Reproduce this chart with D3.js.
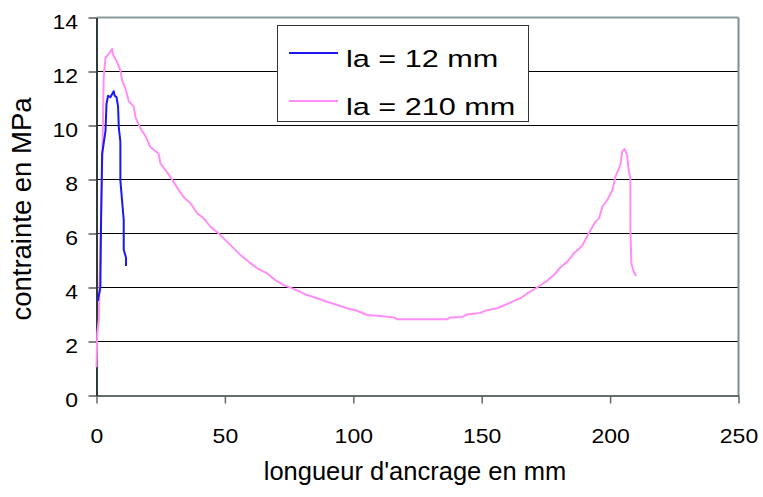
<!DOCTYPE html>
<html>
<head>
<meta charset="utf-8">
<script src="https://cdn.jsdelivr.net/npm/d3@7"></script>
<style>
  html, body { margin: 0; padding: 0; background: #fff; }
  svg { display: block; }
  text { font-family: "Liberation Sans", Arial, sans-serif; fill: #000; }
</style>
</head>
<body>
<svg id="chart" width="763" height="497"></svg>
<script>
// ---- data ----
const seriesNames = ["la = 12 mm", "la = 210 mm"];
const seriesColors = ["#1a1aee", "#ff8ff6"];

const blueX = [0.5, 1.5, 1.8, 2.2, 3.5, 3.9, 4.5, 5.4, 6.1, 6.7,
               7.1, 7.8, 8.4, 8.7, 9.3, 9.3, 10.6, 10.6, 11.5, 11.5];
const blueY = [3.5, 4.0, 6.6, 8.95, 9.8, 10.8, 11.1, 11.05, 11.17, 11.27,
               11.1, 11.05, 10.7, 9.9, 9.4, 7.96, 6.5, 5.4, 5.1, 4.8];

const pinkX = [0, 0.3, 0.9, 1.6, 2.2, 2.8, 3.5, 4.8, 6.1, 6.3,
               8.0, 9.3, 10.0, 11.3, 12.6, 14.5, 15.2, 17.1, 19.1, 21.0,
               24.2, 24.9, 28.8, 31.4, 34.0, 36.6, 39.2, 41.8, 44.4, 47.6,
               49.5, 52.2, 54.8, 56.1, 59.3, 62.6, 66.5, 69.7, 72.9, 76.2,
               79.4, 82.0, 85.9, 89.8, 93.7, 97.6, 101.5, 105.4, 110.6, 115.8,
               117.0, 123.6, 130, 136.5, 137.8, 142.4, 144.3, 149.5, 152.1, 156.0,
               159.9, 163.2, 165.1, 167.7, 171.6, 175.5, 178.1, 180.7, 183.3, 185.9,
               189.1, 191.1, 192.4, 194.3, 195.7, 197.0, 198.9, 200.9, 202.1, 204.0,
               204.7, 205.6, 206.6, 207.2, 207.9, 207.9, 208.3, 209.2, 210.2];
const pinkY = [1.05, 2.3, 2.8, 6.0, 8.45, 11.8, 12.5, 12.65, 12.84, 12.65,
               12.35, 12.04, 11.67, 11.36, 10.9, 10.7, 10.3, 9.9, 9.6, 9.2,
               8.95, 8.6, 8.1, 7.7, 7.34, 7.12, 6.75, 6.56, 6.25, 6.0,
               5.82, 5.57, 5.32, 5.2, 4.95, 4.71, 4.52, 4.27, 4.09, 3.97,
               3.84, 3.72, 3.6, 3.47, 3.35, 3.23, 3.14, 2.98, 2.94, 2.89,
               2.82, 2.82, 2.82, 2.82, 2.89, 2.91, 3.0, 3.06, 3.16, 3.23,
               3.39, 3.53, 3.6, 3.78, 4.0, 4.25, 4.46, 4.75, 4.95, 5.27,
               5.54, 5.91, 6.13, 6.44, 6.56, 6.99, 7.24, 7.61, 8.11, 8.54,
               9.03, 9.13, 8.91, 8.35, 8.05, 6.13, 4.89, 4.58, 4.43];

const xTicks = [0, 50, 100, 150, 200, 250];
const yTicks = [0, 2, 4, 6, 8, 10, 12, 14];
const xTitle = "longueur d'ancrage en mm";
const yTitle = "contrainte en MPa";

// ---- layout ----
const svg = d3.select("#chart");
const pL = 96.5, pR = 738.5, pT = 17.5, pB = 395.5;
const x = d3.scaleLinear().domain([0, 250]).range([pL, pR]);
const y = d3.scaleLinear().domain([0, 14]).range([pB, pT]);

// gridlines
svg.append("g").selectAll("line")
  .data(yTicks.filter(d => d > 0 && d < 14))
  .join("line")
  .attr("x1", pL).attr("x2", pR)
  .attr("y1", d => y(d)).attr("y2", d => y(d))
  .attr("stroke", "#000").attr("stroke-width", 1);

// frame top/right (gray)
svg.append("line").attr("x1", pL).attr("x2", pR).attr("y1", pT).attr("y2", pT)
  .attr("stroke", "#8a9a9a").attr("stroke-width", 2);
svg.append("line").attr("x1", pR).attr("x2", pR).attr("y1", pT).attr("y2", pB)
  .attr("stroke", "#7a9090").attr("stroke-width", 2);

// axes
const tickSX = 1.15;
const xAxis = svg.append("g").attr("transform", `translate(0,${pB})`)
  .call(d3.axisBottom(x).tickValues(xTicks).tickSize(8).tickSizeOuter(0).tickFormat(d3.format("d")));
xAxis.select(".domain").attr("stroke", "#2f3f3f").attr("stroke-width", 1.5);
xAxis.selectAll(".tick line").attr("stroke", "#666").attr("stroke-width", 1.5);
xAxis.selectAll(".tick text")
  .attr("y", 47.5).attr("dy", 0)
  .attr("transform", `scale(${tickSX},1)`)
  .style("font-size", "20px").style("font-family", "'Liberation Sans', Arial, sans-serif").attr("fill", "#000");

const yAxis = svg.append("g").attr("transform", `translate(${pL},0)`)
  .call(d3.axisLeft(y).tickValues(yTicks).tickSize(8).tickSizeOuter(0).tickFormat(d3.format("d")));
yAxis.select(".domain").attr("stroke", "#2f3a3a").attr("stroke-width", 2);
yAxis.selectAll(".tick line").attr("stroke", "#333").attr("stroke-width", 1.2);
yAxis.selectAll(".tick text")
  .attr("x", -18.5 / tickSX).attr("y", 10.5).attr("dy", 0)
  .attr("transform", `scale(${tickSX},1)`)
  .style("font-size", "20px").style("font-family", "'Liberation Sans', Arial, sans-serif").attr("fill", "#000");

// axis titles
svg.append("text").attr("x", 415).attr("y", 480)
  .attr("text-anchor", "middle").style("font-size", "25.5px").text(xTitle);
svg.append("text").attr("transform", "translate(31,209) rotate(-90)")
  .attr("text-anchor", "middle").style("font-size", "27.5px").text(yTitle);

// lines
const line = d3.line().x(d => x(d[0])).y(d => y(d[1]));
const blueData = d3.zip(blueX, blueY);
const pinkData = d3.zip(pinkX, pinkY);

svg.append("path").datum(pinkData).attr("d", line)
  .attr("fill", "none").attr("stroke", seriesColors[1]).attr("stroke-width", 2)
  .attr("stroke-linejoin", "round");
svg.append("path").datum(blueData).attr("d", line)
  .attr("fill", "none").attr("stroke", seriesColors[0]).attr("stroke-width", 2)
  .attr("stroke-linejoin", "round");

// legend
const lg = svg.append("g");
lg.append("rect").attr("x", 277.5).attr("y", 25.5).attr("width", 251).attr("height", 96)
  .attr("fill", "#fff").attr("stroke", "#333").attr("stroke-width", 1);
seriesNames.forEach((name, i) => {
  const ly = 53 + i * 48;
  lg.append("line").attr("x1", 289).attr("x2", 338).attr("y1", ly).attr("y2", ly)
    .attr("stroke", seriesColors[i]).attr("stroke-width", 2);
  lg.append("text").attr("transform", `translate(346,${ly + 14}) scale(1.25,1)`)
    .style("font-size", "24.5px").text(name);
});
</script>
</body>
</html>
